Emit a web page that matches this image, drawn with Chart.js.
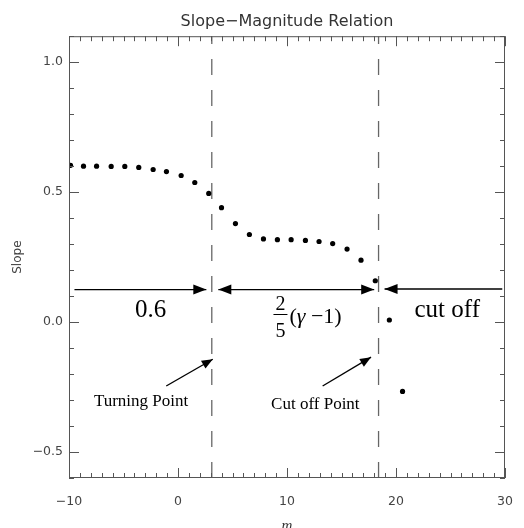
<!DOCTYPE html>
<html>
<head>
<meta charset="utf-8">
<script src="https://cdn.jsdelivr.net/npm/chart.js@4.4.0/dist/chart.umd.min.js"></script>
<style>
  html, body { margin: 0; padding: 0; background: #fff; }
  #wrap { width: 524px; height: 528px; }
</style>
</head>
<body>
<div id="wrap"><canvas id="slopeChart"></canvas></div>
<script>
// magnitude m and measured slope
const magnitudes = [-9.86, -8.67, -7.47, -6.13, -4.88, -3.6, -2.28, -1.06, 0.29, 1.54, 2.82,
                    3.99, 5.27, 6.55, 7.84, 9.12, 10.38, 11.69, 12.94, 14.19, 15.51, 16.79,
                    18.1, 19.39, 20.6];
const slopes = [0.603, 0.600, 0.600, 0.599, 0.599, 0.595, 0.587, 0.579, 0.564, 0.537, 0.495,
                0.440, 0.379, 0.337, 0.320, 0.317, 0.317, 0.314, 0.310, 0.302, 0.281, 0.238,
                0.159, 0.008, -0.267];

const xTicks = [-10, 0, 10, 20, 30];
const yTicks = [-0.5, 0.0, 0.5, 1.0];
const xRange = [-10, 30];
const yRange = [-0.6, 1.1];

// turning point / cut-off point magnitudes
const markers = [3.1, 18.4];

// range arrows (head drawn at "to"; both = heads at both ends)
const rangeArrows = [
    { from: -9.5, to: 2.6, y: 0.125, both: false },
    { from: 3.7, to: 18.0, y: 0.125, both: true },
    { from: 29.75, to: 18.95, y: 0.127, both: false }
];
const pointerArrows = [
    { from: [-1.08, -0.246], to: [3.19, -0.143] },
    { from: [13.27, -0.246], to: [17.71, -0.135] }
];
const notes = [
    { text: '0.6', x: -2.52, y: 0.046, size: 25 },
    { text: 'cut off', x: 24.7, y: 0.046, size: 25 },
    { text: 'Turning Point', x: -3.39, y: -0.307, size: 17 },
    { text: 'Cut off Point', x: 12.6, y: -0.318, size: 17 }
];
const fraction = { x: 9.4, top: 0.067, bar: 0.031, bottom: -0.036, paren: 0.019 };

const SERIF = '"Liberation Serif", "DejaVu Serif", serif';
const SANS = '"DejaVu Sans", sans-serif';

const minus = s => s.replace('-', '\u2212');

function arrowHead(ctx, x0, y0, x1, y1, len, half) {
    const a = Math.atan2(y1 - y0, x1 - x0);
    ctx.beginPath();
    ctx.moveTo(x1, y1);
    ctx.lineTo(x1 - len * Math.cos(a) + half * Math.sin(a), y1 - len * Math.sin(a) - half * Math.cos(a));
    ctx.lineTo(x1 - len * Math.cos(a) - half * Math.sin(a), y1 - len * Math.sin(a) + half * Math.cos(a));
    ctx.closePath();
    ctx.fill();
}

// box frame with inward major/minor ticks on all four sides
const framePlugin = {
    id: 'frame',
    afterDraw(chart) {
        const { ctx, chartArea: a, scales: { x, y } } = chart;
        ctx.save();
        ctx.strokeStyle = '#555';
        ctx.lineWidth = 1;
        ctx.strokeRect(a.left + 0.5, a.top + 0.5, a.right - a.left - 1, a.bottom - a.top - 1);
        ctx.beginPath();
        for (let v = xRange[0]; v <= xRange[1] + 1e-9; v += 1) {
            const px = Math.round(x.getPixelForValue(v)) + 0.5;
            const len = Math.abs(v % 10) < 1e-9 ? 10 : 5;
            ctx.moveTo(px, a.bottom); ctx.lineTo(px, a.bottom - len);
            ctx.moveTo(px, a.top); ctx.lineTo(px, a.top + len);
        }
        for (let i = -6; i <= 11; i++) {
            const v = i / 10;
            const py = Math.round(y.getPixelForValue(v)) + 0.5;
            const len = i % 5 === 0 ? 10 : 5;
            ctx.moveTo(a.left, py); ctx.lineTo(a.left + len, py);
            ctx.moveTo(a.right, py); ctx.lineTo(a.right - len, py);
        }
        ctx.stroke();
        ctx.restore();
    }
};

// arrows and formula labels
const notesPlugin = {
    id: 'notes',
    afterDatasetsDraw(chart) {
        const { ctx, scales: { x, y } } = chart;
        ctx.save();
        ctx.strokeStyle = '#000';
        ctx.fillStyle = '#000';
        ctx.lineWidth = 1.4;

        rangeArrows.forEach(r => {
            const x0 = x.getPixelForValue(r.from), x1 = x.getPixelForValue(r.to);
            const py = y.getPixelForValue(r.y);
            ctx.beginPath();
            ctx.moveTo(x0, py); ctx.lineTo(x1, py);
            ctx.stroke();
            arrowHead(ctx, x0, py, x1, py, 13, 5);
            if (r.both) arrowHead(ctx, x1, py, x0, py, 13, 5);
        });

        pointerArrows.forEach(p => {
            const x0 = x.getPixelForValue(p.from[0]), y0 = y.getPixelForValue(p.from[1]);
            const x1 = x.getPixelForValue(p.to[0]), y1 = y.getPixelForValue(p.to[1]);
            ctx.beginPath();
            ctx.moveTo(x0, y0); ctx.lineTo(x1, y1);
            ctx.stroke();
            arrowHead(ctx, x0, y0, x1, y1, 11, 4.5);
        });

        ctx.textAlign = 'center';
        ctx.textBaseline = 'middle';
        notes.forEach(n => {
            ctx.font = n.size + 'px ' + SERIF;
            ctx.fillText(n.text, x.getPixelForValue(n.x), y.getPixelForValue(n.y));
        });

        // 2/5 (γ − 1)
        const fx = x.getPixelForValue(fraction.x);
        ctx.font = '20px ' + SERIF;
        ctx.fillText('2', fx, y.getPixelForValue(fraction.top));
        ctx.fillText('5', fx, y.getPixelForValue(fraction.bottom));
        const by = Math.round(y.getPixelForValue(fraction.bar)) + 0.5;
        ctx.lineWidth = 1;
        ctx.beginPath();
        ctx.moveTo(fx - 7, by); ctx.lineTo(fx + 7, by);
        ctx.stroke();

        const py = y.getPixelForValue(fraction.paren);
        let cx = fx + 9;
        ctx.textAlign = 'left';
        const parts = [['(', ''], ['\u03B3', 'italic '], [' \u22121)', '']];
        parts.forEach(([t, style]) => {
            ctx.font = style + '22px ' + SERIF;
            ctx.fillText(t, cx, py);
            cx += ctx.measureText(t).width;
        });
        ctx.restore();
    }
};

const points = magnitudes.map((m, i) => ({ x: m, y: slopes[i] }));
const markerSets = markers.map(m => ({
    data: [{ x: m, y: yRange[0] }, { x: m, y: yRange[1] }],
    showLine: true,
    borderColor: '#666',
    borderWidth: 1.3,
    borderDash: [16, 15],
    pointRadius: 0
}));

new Chart(document.getElementById('slopeChart'), {
    type: 'scatter',
    data: {
        datasets: [{
            data: points,
            pointStyle: 'circle',
            pointRadius: 2.6,
            backgroundColor: '#000',
            borderWidth: 0
        }, ...markerSets]
    },
    options: {
        responsive: true,
        maintainAspectRatio: false,
        animation: false,
        layout: { padding: { left: 0, right: 19, top: 0, bottom: 0 } },
        plugins: {
            legend: { display: false },
            tooltip: { enabled: false },
            title: {
                display: true,
                fullSize: false,
                text: 'Slope\u2212Magnitude Relation',
                color: '#333',
                font: { family: SANS, size: 16, weight: 'normal', lineHeight: 1.2 },
                padding: { top: 12, bottom: 5 }
            }
        },
        scales: {
            x: {
                type: 'linear',
                min: xRange[0],
                max: xRange[1],
                afterBuildTicks: s => { s.ticks = xTicks.map(v => ({ value: v })); },
                afterFit: s => { s.height = 50; s.paddingLeft = 0; s.paddingRight = 0; },
                grid: { display: false, drawTicks: false },
                border: { display: false },
                ticks: {
                    padding: 16,
                    color: '#444',
                    font: { family: SANS, size: 12.5 },
                    maxRotation: 0,
                    callback: v => minus(String(v))
                },
                title: {
                    display: true,
                    text: 'm',
                    color: '#333',
                    font: { family: SERIF, size: 15, style: 'italic' },
                    padding: { top: 0, bottom: -7 }
                }
            },
            y: {
                type: 'linear',
                min: yRange[0],
                max: yRange[1],
                afterBuildTicks: s => { s.ticks = yTicks.map(v => ({ value: v })); },
                afterFit: s => { s.width = 69; },
                grid: { display: false, drawTicks: false },
                border: { display: false },
                ticks: {
                    padding: 6,
                    color: '#444',
                    font: { family: SANS, size: 12.5 },
                    callback: v => minus(v.toFixed(1))
                },
                title: {
                    display: true,
                    text: 'Slope',
                    color: '#444',
                    font: { family: SANS, size: 12 },
                    padding: { top: 11 }
                }
            }
        }
    },
    plugins: [framePlugin, notesPlugin]
});
</script>
</body>
</html>
